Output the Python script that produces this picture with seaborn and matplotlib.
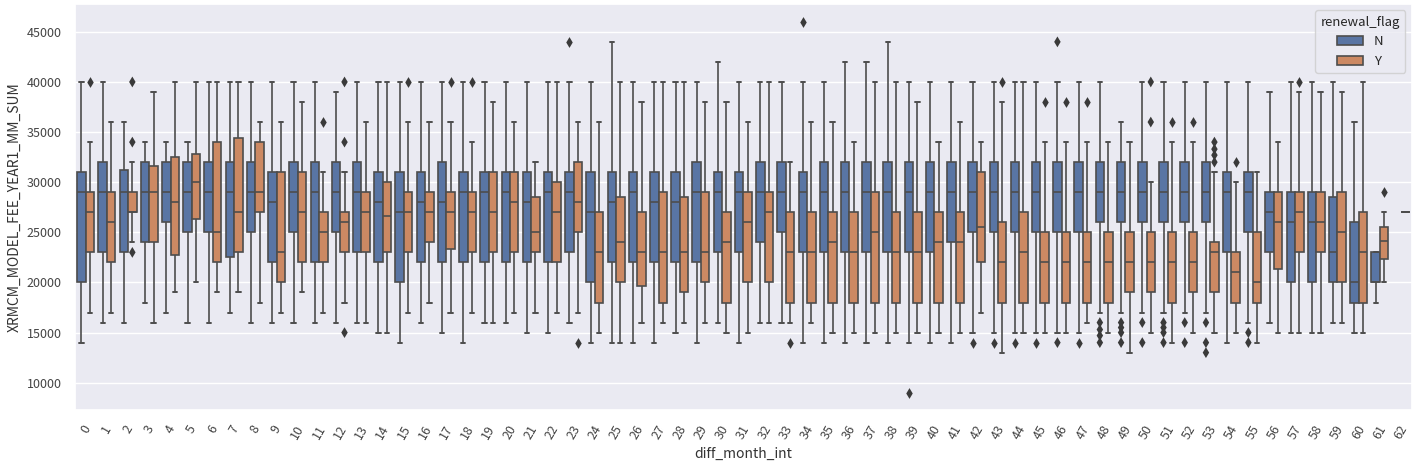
import numpy as np
import pandas as pd
import seaborn as sns
import matplotlib.pyplot as plt

# ---------------- data (values in thousands) ----------------
categories = list(range(63))
hue_levels = ["N", "Y"]

# N (renewal_flag = N) box statistics: whisker low, Q1, median, Q3, whisker high
n_lo  = [14,16,16,18,17,16,16,17,16,16,16,16,16,16,15,14,16,15,14,16,16,15,15,16,14,14,14,14,15,14,16,14,
         16,16,14,14,14,14,14,14,14,14,15,15,15,15,15,15,17,17,17,17,17,17,14,16,16,15,15,16,15,18,None]
n_q1  = [20,23,23,24,26,25,25,22.5,25,22,25,22,25,23,22,20,22,22,22,22,22,22,22,23,20,22,22,22,22,22,23,23,
         24,25,23,23,23,23,23,23,23,24,25,25,25,25,25,25,26,26,26,26,26,26,23,25,23,20,20,20,18,20,None]
n_med = [29,29,29,29,29,29,29,29,29,28,29,29,29,29,28,27,28,28,29,29,29,28,29,29,27,28,29,28,28,29,29,29,
         29,29,29,29,29,29,29,29,29,29,29,29,29,29,29,29,29,29,29,29,29,29,29,29,27,26,26,23,20,20,None]
n_q3  = [31,32,31.2,32,32,32,32,32,32,31,32,32,32,32,31,31,31,32,31,31,31,31,31,31,31,31,31,31,31,32,31,31,
         32,32,31,32,32,32,32,32,32,32,32,32,32,32,32,32,32,32,32,32,32,32,31,31,29,29,29,28.5,26,23,None]
n_hi  = [40,40,36,34,34,34,40,40,40,40,40,40,39,40,40,40,40,40,40,40,40,40,40,40,40,44,40,40,40,40,42,40,
         40,40,40,40,42,42,44,40,40,40,40,40,40,40,40,40,40,36,40,40,40,40,40,40,39,40,40,40,36,23,None]

# Y (renewal_flag = Y) box statistics
y_lo  = [17,17,24,16,19,20,19,19,18,17,19,17,18,16,15,17,18,17,17,16,17,17,17,17,15,14,16,16,16,16,15,15,
         16,16,16,15,15,15,15,15,15,15,17,13,15,15,15,16,15,13,15,14,15,15,15,14,15,15,15,16,15,20,27]
y_q1  = [23,22,27,24,22.7,26.3,22,23,27,20,22,22,23,23,23,23,24,23.3,23,23,23,23,22,25,18,20,19.6,18,19,20,18,20,
         20,18,18,18,18,18,18,18,18,18,22,18,18,18,18,18,18,19,19,18,19,19,18,18,21.3,23,23,20,18,22.3,27]
y_med = [27,26,27,29,28,30,25,27,29,23,27,25,26,27,26.6,27,27,27,27,27,28,25,27,28,23,24,23,23,23,23,24,26,
         27,23,23,24,23,25,23,23,24,24,25.5,22,23,22,22,22,22,22,22,22,22,23,21,20,26,27,26,25,23,24.1,27]
y_q3  = [29,29,29,31.6,32.5,32.8,34,34.4,34,31,31,27,27,29,30,29,29,29,29,31,31,28.5,30,32,27,28.5,27,29,28.5,29,27,29,
         29,27,27,27,27,29,27,27,27,27,31,26,27,25,25,25,25,25,25,25,25,24,23,25,29,29,29,29,27,25.5,27]
y_hi  = [34,36,32,39,40,40,40,40,36,36,38,31,31,36,40,36,36,36,34,38,36,32,40,36,36,40,38,40,40,38,38,36,
         40,32,36,36,34,40,40,38,34,36,34,38,40,34,34,34,34,34,30,34,34,31,30,31,34,39,39,39,40,27,27]

# outliers (beyond whiskers)
n_outliers = {23: [44], 34: [46], 39: [9], 42: [14], 43: [14], 44: [14], 45: [14], 46: [44, 14], 47: [14],
              48: [16, 15.3, 14.7, 14], 49: [16, 15.5, 15, 14], 50: [16, 14], 51: [16, 15.5, 15, 14],
              52: [16, 14], 53: [16, 14, 13], 55: [15, 14]}
y_outliers = {0: [40], 2: [40, 34, 23], 11: [36], 12: [40, 34, 15], 15: [40], 17: [40], 18: [40], 23: [14],
              33: [14], 43: [40], 45: [38], 46: [38], 47: [38], 50: [40, 36], 51: [36], 52: [36],
              53: [34, 33.3, 32.7, 32], 54: [32], 57: [40], 61: [29]}

XCOL, YCOL, HCOL = "diff_month_int", "XRMCM_MODEL_FEE_YEAR1_MM_SUM", "renewal_flag"

# ---------------- build tables ----------------
rows = []
for flag, stats in (("N", (n_lo, n_q1, n_med, n_q3, n_hi)), ("Y", (y_lo, y_q1, y_med, y_q3, y_hi))):
    for i, c in enumerate(categories):
        if stats[0][i] is None:
            continue
        for s in stats:
            rows.append((c, flag, s[i] * 1000))
df = pd.DataFrame(rows, columns=[XCOL, HCOL, YCOL])

orows = []
for flag, outs in (("N", n_outliers), ("Y", y_outliers)):
    for c, vals in outs.items():
        for v in vals:
            orows.append((c, flag, v * 1000))
odf = pd.DataFrame(orows, columns=[XCOL, HCOL, YCOL])

# ---------------- plot ----------------
sns.set_theme(style="darkgrid")
plt.rcParams["font.family"] = ["Noto Sans CJK KR", "DejaVu Sans"]

fig, ax = plt.subplots(figsize=(14.16, 4.71), dpi=100)
fig.subplots_adjust(left=0.053, right=0.997, top=0.992, bottom=0.13)

line_c = "#4d4d4d"
sns.boxplot(data=df, x=XCOL, y=YCOL, hue=HCOL, order=categories, hue_order=hue_levels,
            whis=(0, 100), width=0.8, saturation=0.75, linecolor=line_c, linewidth=1.2,
            capprops=dict(color=line_c, linewidth=1.4), ax=ax)
sns.stripplot(data=odf, x=XCOL, y=YCOL, hue=HCOL, order=categories, hue_order=hue_levels,
              dodge=True, jitter=False, marker="d", size=5.5,
              palette={"N": "#3a3a3a", "Y": "#3a3a3a"}, legend=False, ax=ax)

ax.set_ylim(7300, 47800)
ax.set_yticks([10000, 15000, 20000, 25000, 30000, 35000, 40000, 45000])
ax.tick_params(axis="x", labelrotation=60, labelsize=9, colors="#444444")
ax.tick_params(axis="y", labelsize=9, colors="#444444")
ax.set_xlabel(XCOL, fontsize=10, color="#333333")
ax.set_ylabel(YCOL, fontsize=10, color="#333333")

sns.move_legend(ax, "upper right", title=HCOL, fontsize=9.5, title_fontsize=9.5)

fig.savefig("out.png", dpi=100)
